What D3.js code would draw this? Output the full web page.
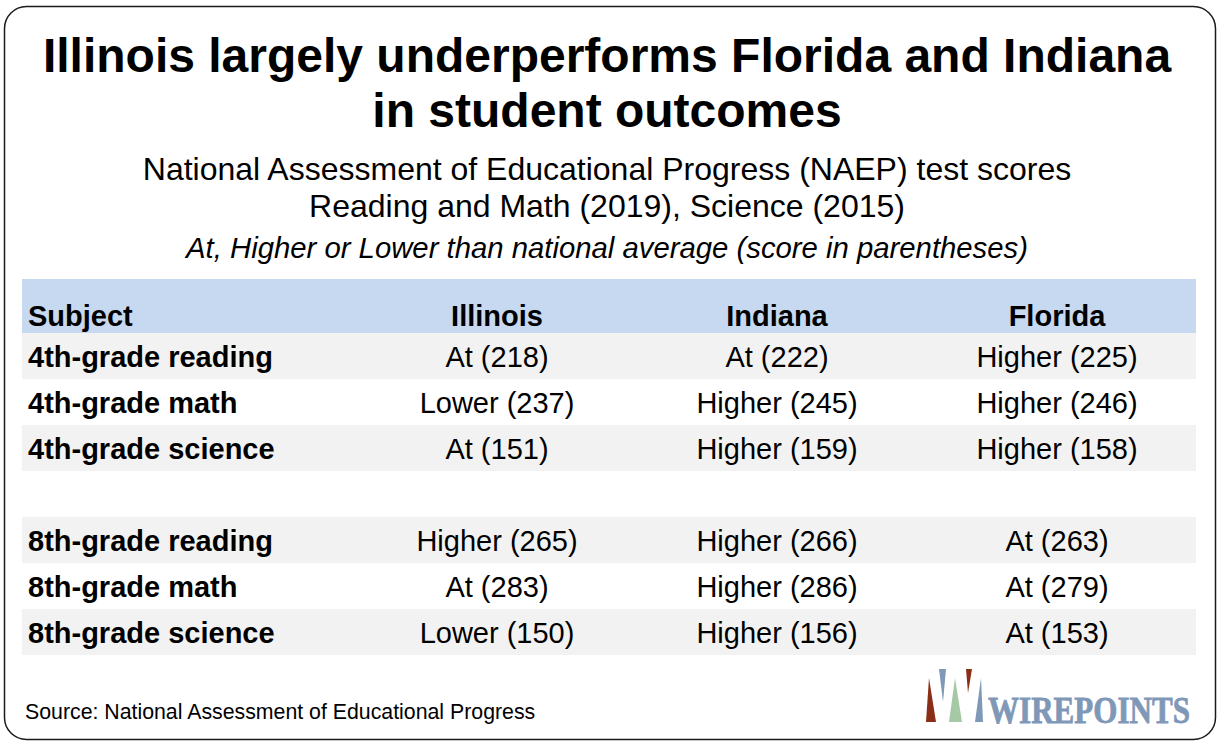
<!DOCTYPE html>
<html>
<head>
<meta charset="utf-8">
<script src="https://cdn.jsdelivr.net/npm/d3@7"></script>
<style>
  body { margin: 0; background: #fff; }
  text { font-family: "Liberation Sans", Arial, sans-serif; fill: #000; }
</style>
</head>
<body>
<div id="vis"></div>
<script>
// table contents
const states = ["Illinois", "Indiana", "Florida"]
const subjects = ["4th-grade reading", "4th-grade math", "4th-grade science",
                  "8th-grade reading", "8th-grade math", "8th-grade science"]
// row slot for each subject (slot 3 is the blank spacer row)
const rowSlots = [0, 1, 2, 4, 5, 6]
const illinoisRating = ["At", "Lower", "At", "Higher", "At", "Lower"]
const illinoisScore = [218, 237, 151, 265, 283, 150]
const indianaRating = ["At", "Higher", "Higher", "Higher", "Higher", "Higher"]
const indianaScore = [222, 245, 159, 266, 286, 156]
const floridaRating = ["Higher", "Higher", "Higher", "At", "At", "At"]
const floridaScore = [225, 246, 158, 263, 279, 153]

const titleLines = ["Illinois largely underperforms Florida and Indiana", "in student outcomes"]
const subtitleLines = ["National Assessment of Educational Progress (NAEP) test scores",
                       "Reading and Math (2019), Science (2015)"]
const noteText = "At, Higher or Lower than national average (score in parentheses)"
const sourceText = "Source: National Assessment of Educational Progress"

const ratings = { Illinois: illinoisRating, Indiana: indianaRating, Florida: floridaRating }
const scores = { Illinois: illinoisScore, Indiana: indianaScore, Florida: floridaScore }

const W = 1220, H = 745
const svg = d3.select("#vis").append("svg")
    .attr("width", W)
    .attr("height", H)

// outer rounded frame
svg.append("rect")
    .attr("x", 4.5).attr("y", 6.5)
    .attr("width", 1211).attr("height", 733)
    .attr("rx", 22).attr("ry", 22)
    .attr("fill", "#fff")
    .attr("stroke", "#1a1a1a")
    .attr("stroke-width", 1.5)

// titles
svg.selectAll(".title")
    .data(titleLines)
    .enter().append("text")
    .attr("class", "title")
    .attr("x", 607)
    .attr("y", (d, i) => 72 + i * 55)
    .attr("text-anchor", "middle")
    .style("font-weight", "bold")
    .style("font-size", "48px")
    .text(d => d)

svg.selectAll(".subtitle")
    .data(subtitleLines)
    .enter().append("text")
    .attr("class", "subtitle")
    .attr("x", 607)
    .attr("y", (d, i) => 180 + i * 37)
    .attr("text-anchor", "middle")
    .style("font-size", "32px")
    .text(d => d)

svg.append("text")
    .attr("x", 607)
    .attr("y", 258)
    .attr("text-anchor", "middle")
    .style("font-style", "italic")
    .style("font-size", "29.3px")
    .text(noteText)

// table scales
const left = 22, right = 1196
const yRow = d3.scaleBand()
    .domain(d3.range(7))
    .range([333, 655])
const xCol = d3.scaleBand()
    .domain(states)
    .range([357, 1197])

// header band
svg.append("rect")
    .attr("x", left).attr("y", 279)
    .attr("width", right - left).attr("height", 333 - 279)
    .attr("fill", "#c6d9f0")

svg.append("text")
    .attr("x", 28).attr("y", 326)
    .style("font-weight", "bold")
    .style("font-size", "29px")
    .text("Subject")

svg.selectAll(".colhead")
    .data(states)
    .enter().append("text")
    .attr("class", "colhead")
    .attr("x", d => xCol(d) + xCol.bandwidth() / 2)
    .attr("y", 326)
    .attr("text-anchor", "middle")
    .style("font-weight", "bold")
    .style("font-size", "29px")
    .text(d => d)

// striped row backgrounds
svg.selectAll(".band")
    .data(rowSlots.filter(s => s % 2 === 0))
    .enter().append("rect")
    .attr("class", "band")
    .attr("x", left)
    .attr("y", d => yRow(d))
    .attr("width", right - left)
    .attr("height", yRow.bandwidth())
    .attr("fill", "#f2f2f2")

// subject labels
svg.selectAll(".subject")
    .data(subjects)
    .enter().append("text")
    .attr("class", "subject")
    .attr("x", 28)
    .attr("y", (d, i) => yRow(rowSlots[i]) + yRow.bandwidth() / 2 + 11)
    .style("font-weight", "bold")
    .style("font-size", "29px")
    .text(d => d)

// cells
const cells = []
states.forEach(s => {
    subjects.forEach((sub, i) => {
        cells.push({ state: s, slot: rowSlots[i], label: ratings[s][i] + " (" + scores[s][i] + ")" })
    })
})

svg.selectAll(".cell")
    .data(cells)
    .enter().append("text")
    .attr("class", "cell")
    .attr("x", d => xCol(d.state) + xCol.bandwidth() / 2)
    .attr("y", d => yRow(d.slot) + yRow.bandwidth() / 2 + 11)
    .attr("text-anchor", "middle")
    .style("font-size", "29px")
    .text(d => d.label)

// source
svg.append("text")
    .attr("x", 25).attr("y", 719)
    .style("font-size", "21.3px")
    .text(sourceText)

// logo
const logo = svg.append("g").attr("class", "logo")
const wedges = [
    { pts: [[929, 678], [926, 722], [936, 722]], c: "#8a2f17" },
    { pts: [[939, 669], [946, 669], [943, 702]], c: "#7f98b8" },
    { pts: [[955, 678], [949, 722], [962, 722]], c: "#a5c9a4" },
    { pts: [[966, 669], [972, 669], [968, 693]], c: "#8a2f17" },
    { pts: [[981, 678], [975, 722], [983, 722]], c: "#7f98b8" }
]
logo.selectAll("path")
    .data(wedges)
    .enter().append("path")
    .attr("d", d => "M" + d.pts.join("L") + "Z")
    .attr("fill", d => d.c)

// squeeze the wordmark horizontally to fit its slot
const word = logo.append("text")
    .attr("x", 0).attr("y", 0)
    .style("font-family", "'Liberation Serif', 'Times New Roman', serif")
    .style("font-weight", "bold")
    .style("font-size", "37px")
    .style("fill", "#7f98b8")
    .style("stroke", "#7f98b8")
    .style("stroke-width", 0.8)
    .text("WIREPOINTS")
const natural = word.node().getComputedTextLength()
word.attr("transform", "translate(988,723) scale(" + (202 / natural) + ",1)")
</script>
</body>
</html>
